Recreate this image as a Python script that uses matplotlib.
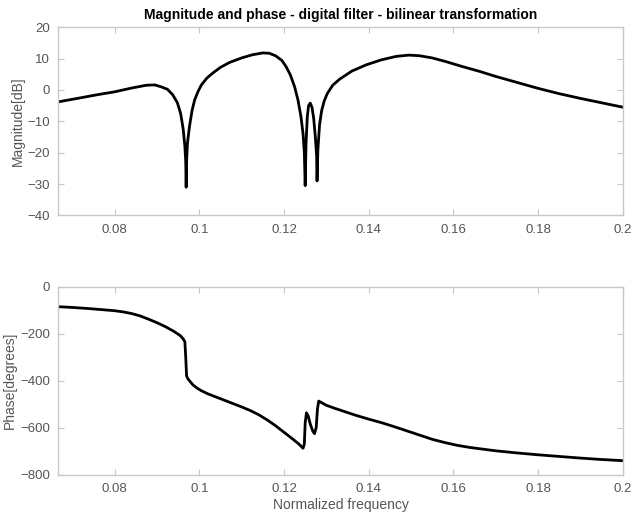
import matplotlib
matplotlib.use('Agg')
import matplotlib.pyplot as plt

plt.rcParams['font.family'] = ['Liberation Sans', 'DejaVu Sans']

# magnitude response (normalized frequency, dB)
f_mag = [0.0667, 0.072, 0.076, 0.080, 0.084, 0.0875, 0.0895, 0.091, 0.0925, 0.0937,
         0.0948, 0.0956, 0.0962, 0.0966, 0.0968, 0.0969, 0.0970, 0.0972, 0.0977, 0.0983,
         0.0989, 0.0997, 0.1005, 0.1018, 0.1032, 0.105, 0.1072, 0.110, 0.1125, 0.115,
         0.1165, 0.118, 0.1195, 0.1205, 0.1215, 0.1225, 0.1233, 0.1240, 0.1245, 0.1248,
         0.1250, 0.1252, 0.1255, 0.1258, 0.1262, 0.1266, 0.1270, 0.1274, 0.1277, 0.1278,
         0.1280, 0.1284, 0.1289, 0.1295, 0.1302, 0.1315, 0.1331, 0.136, 0.1394, 0.143,
         0.1465, 0.1495, 0.152, 0.155, 0.1583, 0.162, 0.1662, 0.170, 0.175, 0.180,
         0.185, 0.190, 0.195, 0.200]
mag_db = [-3.8, -2.5, -1.5, -0.6, 0.6, 1.5, 1.6, 1.0, 0.2, -1.5,
          -4.0, -7.5, -12.5, -18, -23, -31, -23, -17, -11.5, -6.5,
          -3.2, -0.5, 1.6, 3.8, 5.4, 7.2, 8.8, 10.2, 11.2, 11.8,
          11.7, 10.9, 9.4, 7.4, 4.8, 1.0, -3.2, -8.5, -14, -20,
          -30.5, -17, -8.5, -5, -4.2, -5.5, -9, -15, -21, -29,
          -19, -11, -6.5, -3.5, -1.2, 1.5, 3.4, 6.0, 8.0, 9.6,
          10.7, 11.1, 10.9, 10.2, 9.0, 7.5, 5.9, 4.3, 2.4, 0.5,
          -1.2, -2.7, -4.1, -5.5]

# phase response (normalized frequency, degrees)
f_ph = [0.0667, 0.070, 0.074, 0.078, 0.080, 0.082, 0.084, 0.086, 0.088, 0.090,
        0.092, 0.094, 0.0955, 0.0962, 0.0966, 0.0968, 0.0970, 0.0973, 0.0978, 0.0985,
        0.0995, 0.1005, 0.102, 0.104, 0.106, 0.108, 0.110, 0.112, 0.114, 0.116,
        0.118, 0.120, 0.122, 0.1235, 0.1245, 0.1248, 0.1250, 0.1253, 0.1257, 0.1262,
        0.1268, 0.1272, 0.1276, 0.1279, 0.1282, 0.1285, 0.130, 0.132, 0.134, 0.137,
        0.140, 0.143, 0.146, 0.149, 0.152, 0.155, 0.158, 0.161, 0.164, 0.167,
        0.170, 0.175, 0.180, 0.185, 0.190, 0.195, 0.200]
phase_deg = [-85, -88, -93, -99, -102, -107, -114, -124, -138, -153,
             -170, -190, -208, -222, -235, -300, -380, -392, -403, -418,
             -432, -443, -456, -470, -484, -498, -512, -527, -545, -567,
             -592, -620, -648, -670, -688, -670, -580, -537, -550, -585,
             -615, -626, -600, -520, -487, -490, -505, -518, -530, -548,
             -564, -579, -596, -614, -632, -650, -664, -676, -685, -692,
             -699, -708, -716, -723, -730, -736, -741]

xticks = [0.08, 0.1, 0.12, 0.14, 0.16, 0.18, 0.2]
xlabels = ['0.08', '0.1', '0.12', '0.14', '0.16', '0.18', '0.2']

fig = plt.figure(figsize=(6.33, 5.13), dpi=100)
ax1 = fig.add_axes([0.092, 0.580, 0.892, 0.367])
ax2 = fig.add_axes([0.092, 0.075, 0.892, 0.366])


def style(ax):
    for s in ax.spines.values():
        s.set_color('#c8c8c8')
        s.set_linewidth(1.0)
    ax.tick_params(direction='in', length=4, width=0.8, color='#c8c8c8',
                   labelcolor='#555555', labelsize=9.5, top=True, right=True, pad=6)
    ax.set_xlim(0.0667, 0.2)
    ax.set_xticks(xticks)
    ax.set_xticklabels(xlabels)


ax1.plot(f_mag, mag_db, color='black', linewidth=2)
style(ax1)
ax1.set_ylim(-40, 20)
ax1.set_yticks([-40, -30, -20, -10, 0, 10, 20])
ax1.set_ylabel('Magnitude[dB]', color='#555555', fontsize=10, labelpad=2)
ax1.set_title('Magnitude and phase - digital filter - bilinear transformation',
              fontsize=10, fontweight='bold', pad=6)

ax2.plot(f_ph, phase_deg, color='black', linewidth=2)
style(ax2)
ax2.set_ylim(-800, 0)
ax2.set_yticks([-800, -600, -400, -200, 0])
ax2.set_ylabel('Phase[degrees]', color='#555555', fontsize=10, labelpad=2)
ax2.set_xlabel('Normalized frequency', color='#555555', fontsize=10, labelpad=2)

fig.savefig('out.png', dpi=100)
